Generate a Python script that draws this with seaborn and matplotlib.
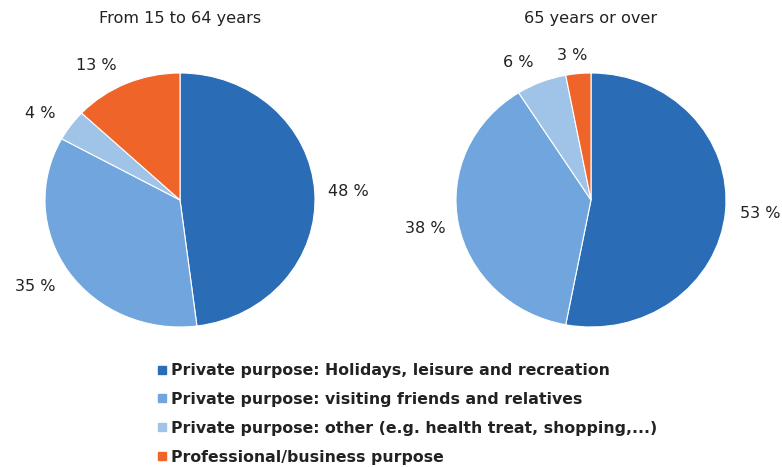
import numpy as np
import matplotlib
matplotlib.use("Agg")
import matplotlib.pyplot as plt
import seaborn as sns
from matplotlib.lines import Line2D

sns.set_theme(style="white")
plt.rcParams['font.family'] = ['DejaVu Sans']

categories = [
    "Private purpose: Holidays, leisure and recreation",
    "Private purpose: visiting friends and relatives",
    "Private purpose: other (e.g. health treat, shopping,...)",
    "Professional/business purpose",
]
titles = ["From 15 to 64 years", "65 years or over"]
values_15_64 = [48, 35, 4, 13]
values_65 = [53, 38, 6, 3]
colors = ["#2a6cb5", "#70a6dd", "#9fc4e8", "#ef6428"]

W, H = 782, 467
fig = plt.figure(figsize=(W / 100, H / 100), dpi=100)

# label placement style: radial distance and small angle nudges (degrees)
label_dist = [[1.246, 1.274, 1.243, 1.225], [1.256, 1.251, 1.207, 1.15]]
label_nudge = [[-0.7, -1.7, 2.6, 7.1], [0.7, -0.3, 5.0, 1.6]]
centers = [(180, 200), (591, 200)]
rx, ry = 135, 127

for i, (vals, title) in enumerate(zip([values_15_64, values_65], titles)):
    cx, cy = centers[i]
    ax = fig.add_axes([(cx - rx) / W, (H - cy - ry) / H, 2 * rx / W, 2 * ry / H])
    wedges, _ = ax.pie(vals, colors=colors, startangle=90, counterclock=False,
                       wedgeprops=dict(linewidth=0.8, edgecolor="white"))
    ax.set_aspect("auto")
    ax.set_xlim(-1, 1)
    ax.set_ylim(-1, 1)
    ax.axis("off")
    for j, (w, v) in enumerate(zip(wedges, vals)):
        ang = np.deg2rad((w.theta1 + w.theta2) / 2 + label_nudge[i][j])
        d = label_dist[i][j]
        ax.text(d * np.cos(ang), d * np.sin(ang), f"{v} %", ha="center", va="center",
                fontsize=11.5, color="#222222", clip_on=False)
    fig.text(cx / W, 1 - 18 / H, title, ha="center", va="center", fontsize=11.6, color="#222222")

handles = [Line2D([0], [0], marker="s", linestyle="", markersize=6,
                  markerfacecolor=c, markeredgecolor=c) for c in colors]
leg = fig.legend(handles, categories, loc="upper left", bbox_to_anchor=(143 / W, 1 - 349 / H),
                 frameon=False, handlelength=0.6, handletextpad=0.3, labelspacing=0.88,
                 prop=dict(weight="bold", size=11.3))
for t in leg.get_texts():
    t.set_color("#222222")

fig.savefig("out.png", dpi=100, facecolor="white")
